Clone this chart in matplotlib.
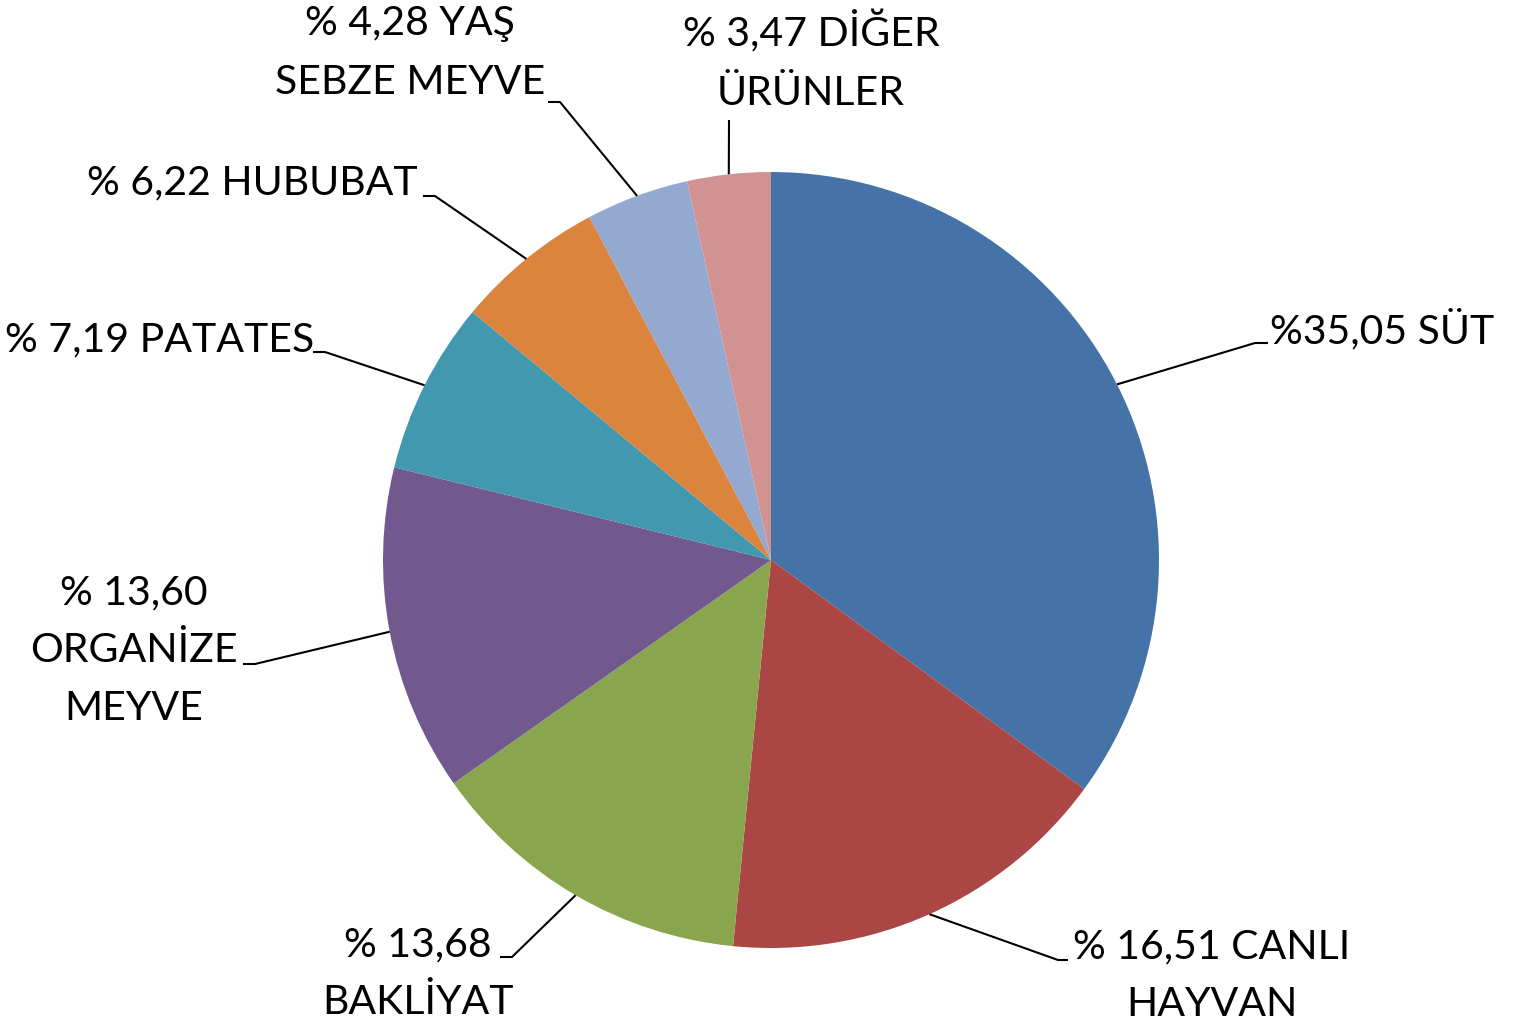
import matplotlib
matplotlib.use("Agg")
import matplotlib.pyplot as plt
import numpy as np

# data
shares = [35.05, 16.51, 13.68, 13.60, 7.19, 6.22, 4.28, 3.47]
labels = ["%35,05 SÜT", "% 16,51 CANLI\nHAYVAN", "% 13,68\nBAKLİYAT",
          "% 13,60\nORGANİZE\nMEYVE", "% 7,19 PATATES", "% 6,22 HUBUBAT",
          "% 4,28 YAŞ\nSEBZE MEYVE", "% 3,47 DİĞER\nÜRÜNLER"]
colors = ["#4572A7", "#AA4643", "#89A54E", "#71588F",
          "#4198AF", "#DB843D", "#93A9CF", "#D19392"]

W, H = 1514, 1025
CX, CY, R = 771, H - 560, 388

# label layout in pixel coords (x, y from top): elbow, line end, text anchor, ha
layout = [
    ((1255, 343), (1268, 343), (1270, 330), "left"),
    ((1058, 960), (1068, 960), (1212, 976), "center"),
    ((512, 957), (500, 957), (418, 974), "center"),
    ((255, 664), (243, 664), (134, 651), "center"),
    ((325, 352), (313, 352), (160, 340), "center"),
    ((435, 196), (423, 196), (252, 183), "center"),
    ((560, 102), (548, 102), (410, 53), "center"),
    ((729, 120), (729, 120), (811, 61), "center"),
]

plt.rcParams["font.family"] = ["Lato", "DejaVu Sans"]

fig = plt.figure(figsize=(W / 100, H / 100), dpi=100)
ax = fig.add_axes([0, 0, 1, 1])
wedges, _ = ax.pie(shares, colors=colors, startangle=90, counterclock=False,
                   center=(CX, CY), radius=R, frame=True,
                   wedgeprops=dict(linewidth=0))

for w, lab, (elbow, end, txt, ha) in zip(wedges, labels, layout):
    mid = np.deg2rad((w.theta1 + w.theta2) / 2)
    x0, y0 = CX + R * np.cos(mid), CY + R * np.sin(mid)
    ax.plot([x0, elbow[0], end[0]], [y0, H - elbow[1], H - end[1]],
            color="black", lw=1.5, solid_capstyle="butt")
    ax.text(txt[0], H - txt[1], lab, ha=ha, va="center", fontsize=29.5,
            linespacing=1.7)

ax.set_xlim(0, W)
ax.set_ylim(0, H)
ax.axis("off")
fig.savefig("out.png", dpi=100)
